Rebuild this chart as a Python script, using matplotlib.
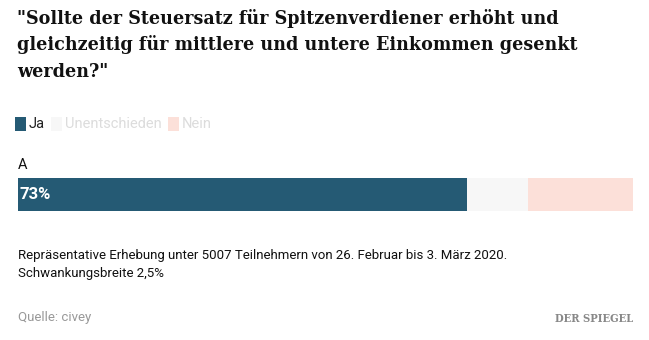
import matplotlib
matplotlib.use("Agg")
import matplotlib.pyplot as plt

# data
categories = ["A"]
series = ["Ja", "Unentschieden", "Nein"]
values = [73, 10, 17]
colors = ["#255a74", "#f7f7f7", "#fce0d9"]
legend_text_colors = ["#222222", "#dcdcdc", "#dcdcdc"]

title_lines = ['"Sollte der Steuersatz für Spitzenverdiener erhöht und',
               'gleichzeitig für mittlere und untere Einkommen gesenkt',
               'werden?"']
note_lines = ["Repräsentative Erhebung unter 5007 Teilnehmern von 26. Februar bis 3. März 2020.",
              "Schwankungsbreite 2,5%"]
source = "Quelle: civey"

W, H = 649, 340
fig = plt.figure(figsize=(W / 100, H / 100), dpi=100)
sans = "Roboto"


def px(x, y):
    return x / W, 1 - y / H


# title, one line each (condensed slab look)
for i, line in enumerate(title_lines):
    fig.text(*px(17, 18 + 27 * i), line, fontsize=14, fontweight="bold",
             family="DejaVu Serif", fontstretch="condensed",
             va="center", ha="left", color="#111111")

# legend
lx = 15
for s, c, tc in zip(series, colors, legend_text_colors):
    fig.patches.append(plt.Rectangle(px(lx, 131), 11 / W, 14 / H, transform=fig.transFigure,
                                     facecolor=c, edgecolor="none"))
    t = fig.text(*px(lx + 14, 124), s, fontsize=10.5, color=tc, va="center", ha="left",
                 family=sans)
    fig.canvas.draw()
    bb = t.get_window_extent()
    lx = bb.x1 + 6

# bar axes
ax = fig.add_axes([18 / W, 1 - 211 / H, 615 / W, 33 / H])
left = 0
for s, v, c in zip(series, values, colors):
    ax.barh(categories, [v], left=left, height=1.0, color=c, edgecolor="none")
    left += v
ax.set_xlim(0, sum(values))
ax.set_ylim(-0.5, 0.5)
ax.axis("off")
ax.text(0.3, 0, f"{values[0]}%", color="white", fontsize=12, fontweight="bold",
        va="center", ha="left", family=sans)

fig.text(*px(18, 165), categories[0], fontsize=10.5, va="center", ha="left",
         color="#111111", family=sans)

for i, line in enumerate(note_lines):
    fig.text(*px(18, 256 + 18 * i), line, fontsize=9.5, va="center", ha="left",
             color="#111111", family=sans)
fig.text(*px(18, 318), source, fontsize=9.5, va="center", ha="left", color="#999999",
         family=sans)
fig.text(*px(633, 319), "DER SPIEGEL", fontsize=8, va="center", ha="right",
         color="#888888", fontweight="bold", family="DejaVu Serif", fontstretch="condensed")

fig.savefig("out.png", dpi=100, facecolor="white")
